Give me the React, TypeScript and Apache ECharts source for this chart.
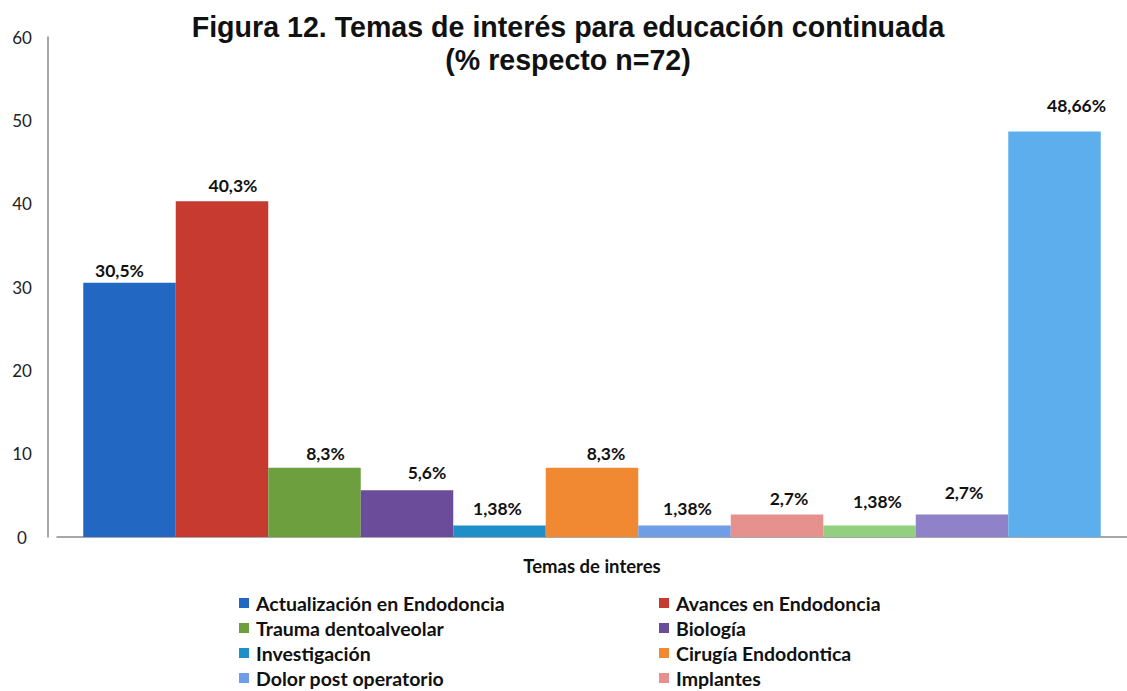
import React, { useEffect, useRef } from "react";
import * as echarts from "echarts";

const titleText = "Figura 12. Temas de interés para educación continuada\n(% respecto n=72)";
const xAxisName = "Temas de interes";
const seriesNames = [
  "Actualización en Endodoncia",
  "Avances en Endodoncia",
  "Trauma dentoalveolar",
  "Biología",
  "Investigación",
  "Cirugía Endodontica",
  "Dolor post operatorio",
  "Implantes",
  "Tema 9",
  "Tema 10",
  "Tema 11",
];
const seriesValues = [30.5, 40.3, 8.3, 5.6, 1.38, 8.3, 1.38, 2.7, 1.38, 2.7, 48.66];
const seriesColors = [
  "#2268c2",
  "#c63a30",
  "#6e9f3e",
  "#6a4c9a",
  "#1e8fc8",
  "#f08932",
  "#6f9ee6",
  "#e6918d",
  "#92cf7e",
  "#8f82c8",
  "#5cafec",
];
// legend shows the first 8 series in two columns (the rest are cut off in the original)
const legendItems = seriesNames.slice(0, 8);
const yTicks = { min: 0, max: 60, interval: 10 };

// style only: manual nudges of the data labels, as placed in the original
const labelNudges: [number, number][] = [
  [-10, 2],
  [11, -2],
  [11, 0],
  [20, -4],
  [-2, -3],
  [14, 0],
  [3, -3],
  [12, -2],
  [8, -10],
  [2, -8],
  [22, -12],
];

const LABEL_FONT = "Lato, 'Open Sans', sans-serif";

export default function App() {
  const ref = useRef<HTMLDivElement>(null);
  useEffect(() => {
    if (!ref.current) return;
    const chart = echarts.init(ref.current, null, { renderer: "svg" });
    const legends = legendItems.map((name, i) => ({
      data: [name],
      left: i % 2 === 0 ? 239 : 659,
      top: 593 + Math.floor(i / 2) * 25,
      icon: "rect",
      itemWidth: 10,
      itemHeight: 10,
      itemGap: 0,
      padding: 0,
      textStyle: {
        fontFamily: LABEL_FONT,
        fontSize: 19.5,
        fontWeight: "bold" as const,
        color: "#111",
        padding: [0, 0, 0, 2],
      },
      selectedMode: false,
    }));
    chart.setOption({
      animation: false,
      backgroundColor: "#ffffff",
      title: {
        text: titleText,
        left: 563,
        textAlign: "center",
        top: 5,
        textStyle: {
          fontFamily: "'Liberation Sans', Arial, sans-serif",
          fontSize: 28.6,
          fontWeight: "bold",
          color: "#111",
          lineHeight: 33,
        },
      },
      legend: legends,
      grid: { left: 57, right: 0, top: 37, bottom: 154 },
      xAxis: {
        type: "category",
        data: [""],
        name: xAxisName,
        nameLocation: "middle",
        nameGap: 19,
        nameTextStyle: { fontFamily: LABEL_FONT, fontSize: 18.5, fontWeight: "bold", color: "#111" },
        axisLine: { lineStyle: { color: "#8a8a8a", width: 1.5 } },
        axisTick: { show: false },
        axisLabel: { show: false },
      },
      yAxis: {
        type: "value",
        min: yTicks.min,
        max: yTicks.max,
        interval: yTicks.interval,
        offset: 9,
        axisLine: { show: true, lineStyle: { color: "#8a8a8a", width: 1.5 } },
        axisTick: { show: false },
        splitLine: { show: false },
        axisLabel: {
          align: "center",
          margin: 26,
          fontFamily: LABEL_FONT,
          fontSize: 17,
          color: "#222",
        },
      },
      series: seriesNames.map((name, i) => ({
        type: "bar",
        name,
        data: [seriesValues[i]],
        barWidth: 92.5,
        barGap: "0%",
        itemStyle: { color: seriesColors[i] },
        label: {
          show: true,
          position: "top",
          distance: 5,
          offset: labelNudges[i],
          fontFamily: LABEL_FONT,
          fontSize: 17.5,
          fontWeight: "bold",
          color: "#111",
          formatter: () => String(seriesValues[i]).replace(".", ",") + "%",
        },
      })),
    });
    return () => chart.dispose();
  }, []);
  return (
    <div
      ref={ref}
      style={{ position: "fixed", left: 0, top: 0, width: 1127, height: 691, background: "#fff" }}
    />
  );
}
